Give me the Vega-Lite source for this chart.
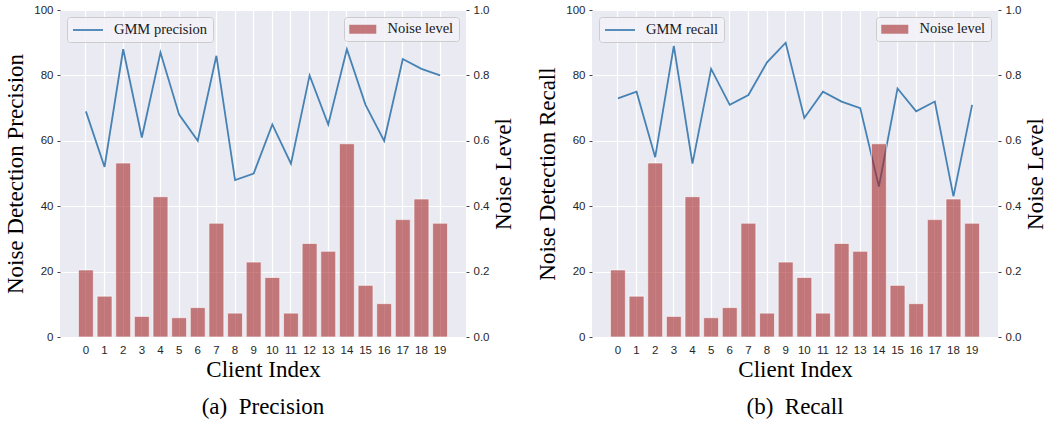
{
  "$schema": "https://vega.github.io/schema/vega-lite/v6.json",
  "padding": {"left": 4, "top": 4, "right": 0, "bottom": 0},
  "background": "white",
  "datasets": {
    "clients": [
      {"client": 0, "noise": 0.205, "precision": 69, "recall": 73},
      {"client": 1, "noise": 0.125, "precision": 52, "recall": 75},
      {"client": 2, "noise": 0.532, "precision": 88, "recall": 55},
      {"client": 3, "noise": 0.063, "precision": 61, "recall": 89},
      {"client": 4, "noise": 0.429, "precision": 87, "recall": 53},
      {"client": 5, "noise": 0.059, "precision": 68, "recall": 82},
      {"client": 6, "noise": 0.09, "precision": 60, "recall": 71},
      {"client": 7, "noise": 0.348, "precision": 86, "recall": 74},
      {"client": 8, "noise": 0.073, "precision": 48, "recall": 84},
      {"client": 9, "noise": 0.229, "precision": 50, "recall": 90},
      {"client": 10, "noise": 0.182, "precision": 65, "recall": 67},
      {"client": 11, "noise": 0.073, "precision": 53, "recall": 75},
      {"client": 12, "noise": 0.286, "precision": 80, "recall": 72},
      {"client": 13, "noise": 0.262, "precision": 65, "recall": 70},
      {"client": 14, "noise": 0.591, "precision": 88, "recall": 46},
      {"client": 15, "noise": 0.158, "precision": 71, "recall": 76},
      {"client": 16, "noise": 0.102, "precision": 60, "recall": 69},
      {"client": 17, "noise": 0.359, "precision": 85, "recall": 72},
      {"client": 18, "noise": 0.422, "precision": 82, "recall": 43},
      {"client": 19, "noise": 0.348, "precision": 80, "recall": 71}
    ]
  },
  "config": {
    "view": {"fill": "#EAEAF2", "stroke": null},
    "axis": {
      "domain": false,
      "labelFont": "Liberation Sans",
      "labelFontSize": 11.5,
      "labelColor": "#262626",
      "titleFont": "Liberation Serif",
      "titleFontSize": 23,
      "titleFontWeight": "normal",
      "titleColor": "#000000",
      "gridColor": "#ffffff",
      "gridWidth": 1.2,
      "gridOpacity": 1,
      "tickColor": "#444444",
      "tickSize": 3
    },
    "legend": {
      "title": null,
      "labelFont": "Liberation Serif",
      "labelFontSize": 14.5,
      "labelColor": "#1a1a1a",
      "padding": 5,
      "offset": 7,
      "strokeColor": "#cccccc",
      "cornerRadius": 3,
      "fillColor": "rgba(242,242,247,0.8)"
    },
    "title": {
      "font": "Liberation Serif",
      "fontSize": 23,
      "fontWeight": "normal",
      "color": "#000000"
    }
  },
  "spacing": 20,
  "resolve": {
    "scale": {"x": "independent", "y": "independent", "stroke": "independent", "fill": "independent"},
    "legend": {"stroke": "independent", "fill": "independent"},
    "axis": {"x": "independent", "y": "independent"}
  },
  "hconcat": [
    {
      "width": 406,
      "height": 327,
      "title": {"text": "(a)\u2002Precision", "orient": "bottom", "offset": 14},
      "data": {"name": "clients"},
      "layer": [
        {
          "mark": {"type": "line", "strokeWidth": 1.8},
          "encoding": {
            "x": {"field": "client", "type": "ordinal", "scale": {"paddingInner": 0.2, "paddingOuter": 0.99},
                  "axis": {"title": "Client Index", "labelAngle": 0, "ticks": false, "labelPadding": 7, "titlePadding": 3, "grid": true}},
            "y": {"field": "precision", "type": "quantitative", "scale": {"domain": [0, 100]},
                  "axis": {"title": "Noise Detection Precision", "values": [0, 20, 40, 60, 80, 100], "labelPadding": 4, "titlePadding": 6, "grid": true}},
            "stroke": {"datum": "GMM precision", "type": "nominal", "scale": {"range": ["#4682b4"]},
                       "legend": {"orient": "top-left", "symbolType": "M-1,0H3.29", "symbolSize": 196, "symbolStrokeWidth": 1.8, "labelOffset": 26}}
          }
        },
        {
          "mark": {"type": "bar", "fillOpacity": 0.6, "stroke": "#ffffff", "strokeWidth": 1, "strokeOpacity": 0.6},
          "encoding": {
            "x": {"field": "client", "type": "ordinal", "scale": {"paddingInner": 0.2, "paddingOuter": 0.99}},
            "y": {"field": "noise", "type": "quantitative", "scale": {"domain": [0, 1]},
                  "axis": {"orient": "right", "title": "Noise Level", "titleAngle": 270, "titleBaseline": "top", "values": [0, 0.2, 0.4, 0.6, 0.8, 1.0], "format": ".1f", "grid": false, "labelPadding": 4, "titlePadding": 4}},
            "fill": {"datum": "Noise level", "type": "nominal", "scale": {"range": ["#a52a2a"]},
                     "legend": {"orient": "top-right", "symbolType": "M-1,-0.64H2.86V0.64H-1Z", "symbolSize": 196, "symbolOpacity": 0.6, "symbolStrokeWidth": 0, "labelOffset": 24}}
          }
        }
      ],
      "resolve": {"scale": {"y": "independent"}, "legend": {"stroke": "independent", "fill": "independent"}}
    },
    {
      "width": 406,
      "height": 327,
      "title": {"text": "(b)\u2002Recall", "orient": "bottom", "offset": 14},
      "data": {"name": "clients"},
      "layer": [
        {
          "mark": {"type": "line", "strokeWidth": 1.8},
          "encoding": {
            "x": {"field": "client", "type": "ordinal", "scale": {"paddingInner": 0.2, "paddingOuter": 0.99},
                  "axis": {"title": "Client Index", "labelAngle": 0, "ticks": false, "labelPadding": 7, "titlePadding": 3, "grid": true}},
            "y": {"field": "recall", "type": "quantitative", "scale": {"domain": [0, 100]},
                  "axis": {"title": "Noise Detection Recall", "values": [0, 20, 40, 60, 80, 100], "labelPadding": 4, "titlePadding": 6, "grid": true}},
            "stroke": {"datum": "GMM recall", "type": "nominal", "scale": {"range": ["#4682b4"]},
                       "legend": {"orient": "top-left", "symbolType": "M-1,0H3.29", "symbolSize": 196, "symbolStrokeWidth": 1.8, "labelOffset": 26}}
          }
        },
        {
          "mark": {"type": "bar", "fillOpacity": 0.6, "stroke": "#ffffff", "strokeWidth": 1, "strokeOpacity": 0.6},
          "encoding": {
            "x": {"field": "client", "type": "ordinal", "scale": {"paddingInner": 0.2, "paddingOuter": 0.99}},
            "y": {"field": "noise", "type": "quantitative", "scale": {"domain": [0, 1]},
                  "axis": {"orient": "right", "title": "Noise Level", "titleAngle": 270, "titleBaseline": "top", "values": [0, 0.2, 0.4, 0.6, 0.8, 1.0], "format": ".1f", "grid": false, "labelPadding": 4, "titlePadding": 4}},
            "fill": {"datum": "Noise level", "type": "nominal", "scale": {"range": ["#a52a2a"]},
                     "legend": {"orient": "top-right", "symbolType": "M-1,-0.64H2.86V0.64H-1Z", "symbolSize": 196, "symbolOpacity": 0.6, "symbolStrokeWidth": 0, "labelOffset": 24}}
          }
        }
      ],
      "resolve": {"scale": {"y": "independent"}, "legend": {"stroke": "independent", "fill": "independent"}}
    }
  ]
}
